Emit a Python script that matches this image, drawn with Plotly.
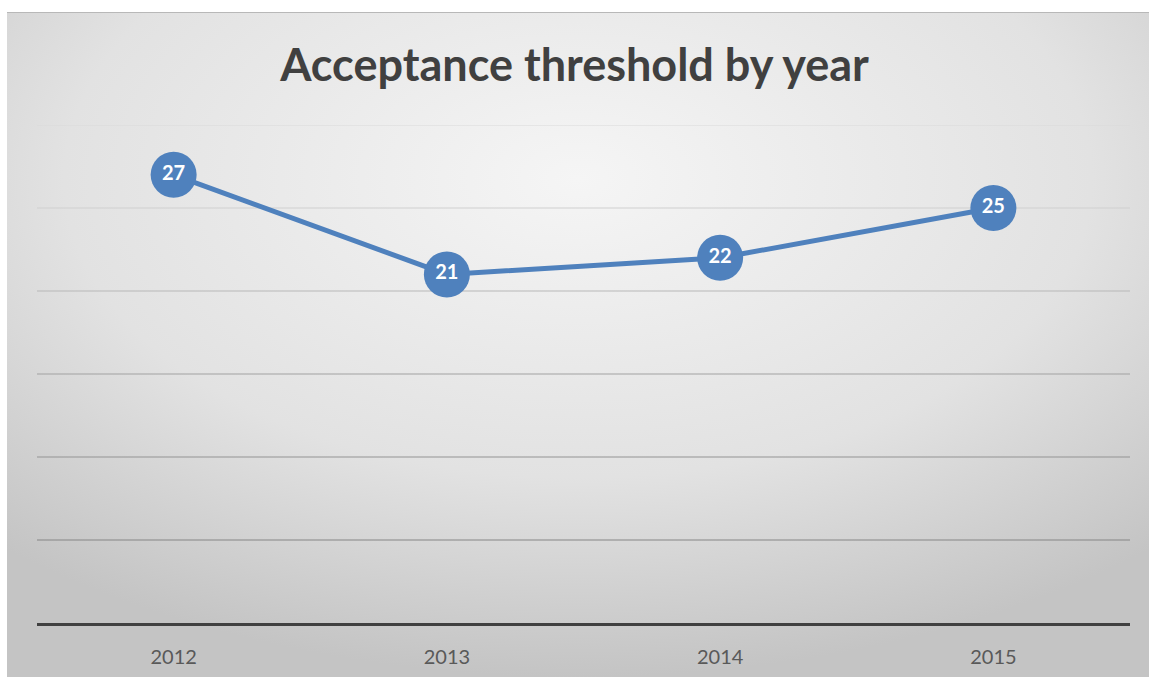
import plotly.graph_objects as go
import base64

years = ["2012", "2013", "2014", "2015"]
threshold = [27, 21, 22, 25]
grid_levels = [5, 10, 15, 20, 25, 30]
grid_colors = ["#868686", "#939393", "#a2a2a2", "#b8b8b8", "#cfcfcf", "#dadada"]

W, H = 1149, 677
L, R, T, B = 37, 19, 125, 54
pw, ph = W - L - R, H - T - B

svg = f'''<svg xmlns="http://www.w3.org/2000/svg" width="{W-7}" height="{H-12}" viewBox="0 0 {W-7} {H-12}">
<defs><radialGradient id="g" cx="50%" cy="25%" r="75%" fx="50%" fy="25%">
<stop offset="0" stop-color="#f5f5f5"/><stop offset="0.6" stop-color="#e2e2e2"/><stop offset="1" stop-color="#c4c4c4"/>
</radialGradient></defs>
<rect x="0" y="0" width="{W-7}" height="{H-12}" fill="url(#g)"/>
<line x1="0" y1="0.5" x2="{W-7}" y2="0.5" stroke="#b8b8b8" stroke-width="1"/>
</svg>'''
src = "data:image/svg+xml;base64," + base64.b64encode(svg.encode()).decode()

fig = go.Figure()
fig.add_trace(go.Scatter(
    x=years, y=threshold, mode="lines+markers+text",
    line=dict(color="#4f81bd", width=5),
    marker=dict(size=46, color="#4f81bd", line=dict(width=0)),
    text=[str(v) for v in threshold], textposition="middle center",
    textfont=dict(family="Lato", size=20, color="white", weight="bold"),
    cliponaxis=False, hoverinfo="x+y", showlegend=False,
))

for lvl, col in zip(grid_levels, grid_colors):
    fig.add_shape(type="line", xref="paper", yref="y", x0=0, x1=1, y0=lvl, y1=lvl,
                  line=dict(color=col, width=1.2), layer="below")

fig.add_layout_image(dict(
    source=src, xref="paper", yref="paper",
    x=(7 - L) / pw, y=(H - B - 12) / ph,
    sizex=(W - 7) / pw, sizey=(H - 12) / ph,
    xanchor="left", yanchor="top", sizing="stretch", layer="below",
))

fig.update_layout(
    width=W, height=H,
    margin=dict(l=L, r=R, t=T, b=B, autoexpand=False),
    paper_bgcolor="white", plot_bgcolor="rgba(0,0,0,0)",
    title=dict(text="Acceptance threshold by year", x=0.5, xanchor="center",
               y=1 - 65 / H, yanchor="middle",
               font=dict(family="Lato", size=45, color="#404040", weight="bold")),
    xaxis=dict(type="category", range=[-0.5, 3.5], showgrid=False,
               showline=True, linecolor="#404040", linewidth=3,
               ticks="", ticklabelstandoff=14, automargin=False,
               tickfont=dict(family="Lato", size=20, color="#595959"),
               fixedrange=True, zeroline=False),
    yaxis=dict(range=[0, 30], showgrid=False, showticklabels=False,
               zeroline=False, showline=False, fixedrange=True, automargin=False),
)

fig.write_html("out.html")
